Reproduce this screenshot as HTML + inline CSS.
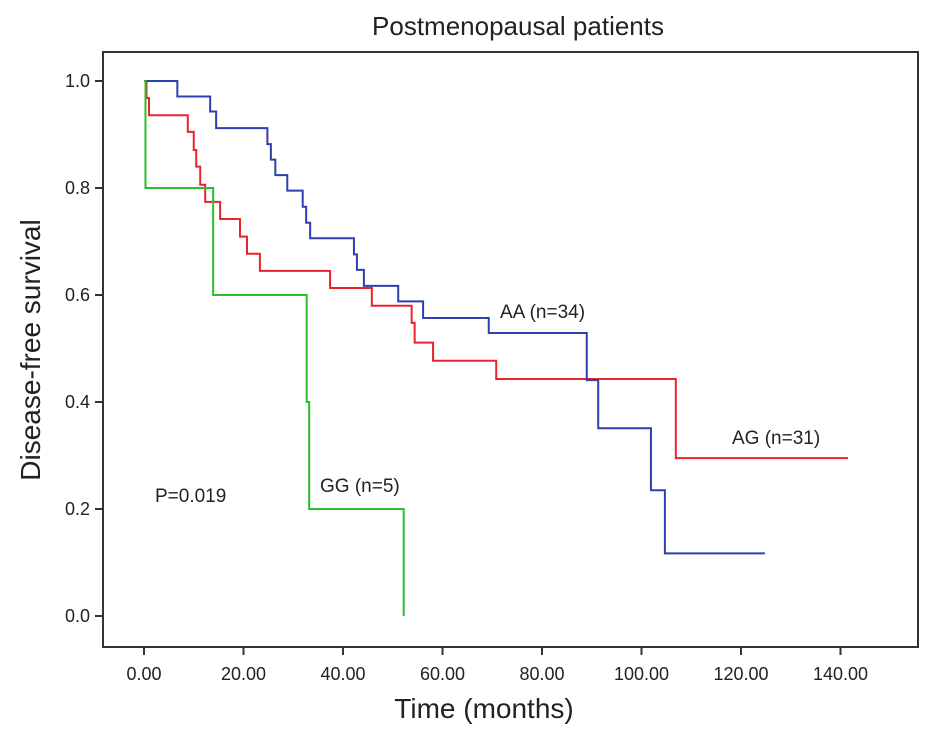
<!DOCTYPE html>
<html><head><meta charset="utf-8">
<style>
html,body{margin:0;padding:0;background:#fff;}
svg text{font-family:"Liberation Sans",Arial,sans-serif;fill:#222;}
</style></head>
<body>
<svg id="chart" width="945" height="736" viewBox="0 0 945 736" xmlns="http://www.w3.org/2000/svg">
<text x="518" y="35" font-size="26" text-anchor="middle">Postmenopausal patients</text>
<rect x="103" y="52" width="815" height="595" fill="none" stroke="#333" stroke-width="2"/>
<g id="axes"></g>
<g id="series"></g>
<text transform="translate(40,350) rotate(-90)" font-size="28" text-anchor="middle">Disease-free survival</text>
<text x="484" y="718" font-size="28" text-anchor="middle">Time (months)</text>
<text x="500" y="318" font-size="19">AA (n=34)</text>
<text x="732" y="444" font-size="19">AG (n=31)</text>
<text x="320" y="492" font-size="19">GG (n=5)</text>
<text x="155" y="502" font-size="19">P=0.019</text>
</svg>
<script>
const xTicks = [0,20,40,60,80,100,120,140];
const xTickLabels = ["0.00","20.00","40.00","60.00","80.00","100.00","120.00","140.00"];
const yTicks = [0,0.2,0.4,0.6,0.8,1.0];
const yTickLabels = ["0.0","0.2","0.4","0.6","0.8","1.0"];
const aaTimes = [0,6.7,13.3,14.5,24.8,25.5,26.4,28.8,31.9,32.6,33.4,42.2,42.8,44.2,51.1,56.1,69.3,89,91.3,101.9,104.7,124.8];
const aaSurv  = [1.0,0.971,0.943,0.912,0.882,0.853,0.824,0.795,0.765,0.735,0.706,0.676,0.647,0.617,0.588,0.557,0.529,0.441,0.351,0.235,0.117,0.117];
const agTimes = [0,0.5,1,8.8,10,10.5,11.3,12.3,15.3,19.3,20.7,23.3,37.4,45.8,53.8,54.4,58.1,70.8,106.9,141.5];
const agSurv  = [1.0,0.968,0.936,0.905,0.871,0.840,0.806,0.774,0.742,0.709,0.677,0.645,0.613,0.580,0.548,0.511,0.477,0.443,0.295,0.295];
const ggTimes = [0,0.3,13.9,32.7,33.2,52.2];
const ggSurv  = [1.0,0.8,0.6,0.4,0.2,0.0];
const X = t => 144 + 4.975*t;
const Y = v => 616 - 535*v;
const NS = "http://www.w3.org/2000/svg";
const axes = document.getElementById('axes');
function mk(tag, attrs, parent){const e=document.createElementNS(NS,tag);for(const k in attrs)e.setAttribute(k,attrs[k]);parent.appendChild(e);return e;}
xTicks.forEach((t,i)=>{
  const l = mk('line',{x1:X(t),x2:X(t),y1:647,y2:655,stroke:'#333','stroke-width':2},axes);
  
  
  const tx = mk('text',{x:X(t),y:680,'font-size':18,'text-anchor':'middle'},axes);
  tx.textContent = xTickLabels[i];
  
  
});
yTicks.forEach((v,i)=>{
  const l = mk('line',{x1:95,x2:103,y1:Y(v),y2:Y(v),stroke:'#333','stroke-width':2},axes);
  
  
  const tx = mk('text',{x:90,y:Y(v)+6,'font-size':18,'text-anchor':'end'},axes);
  tx.textContent = yTickLabels[i];
  
  
});
function stepPath(ts, ss){
  let d = 'M'+X(ts[0])+','+Y(ss[0]);
  for(let i=1;i<ts.length;i++){ d += ' H'+X(ts[i])+' V'+Y(ss[i]); }
  return d;
}
const series = document.getElementById('series');
const p1 = mk('path',{d:stepPath(agTimes,agSurv),fill:'none',stroke:'#e8232c','stroke-width':2},series);


const p2 = mk('path',{d:stepPath(aaTimes,aaSurv),fill:'none',stroke:'#2e3fae','stroke-width':2},series);


const p3 = mk('path',{d:stepPath(ggTimes,ggSurv),fill:'none',stroke:'#2cbf2c','stroke-width':2},series);


</script>
</body></html>
